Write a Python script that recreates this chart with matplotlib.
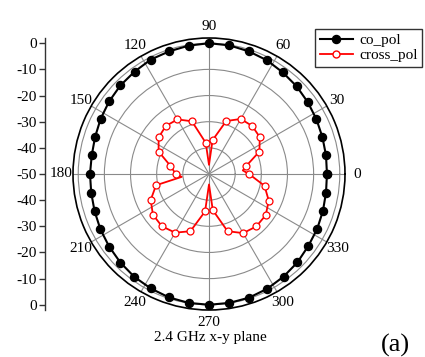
import numpy as np
import matplotlib
matplotlib.use("Agg")
import matplotlib.pyplot as plt
from matplotlib.lines import Line2D

plt.rcParams["font.family"] = ["Liberation Serif", "DejaVu Serif"]

# co-polar pattern, one sample every 9 degrees (dB)
co_angle = list(range(0, 360, 9))
co_pol = [-4.9, -4.7, -4.4, -3.9, -3.3, -2.6, -2.0, -1.2, -0.7, -0.2,
          0.0, -0.3, -0.7, -0.9, -1.6, -2.1, -2.8, -3.5, -4.2, -4.6,
          -4.5, -4.4, -4.0, -3.4, -2.8, -2.1, -1.4, -0.9, -0.4, -0.1,
          0.0, -0.1, -0.3, -0.8, -1.5, -2.2, -3.1, -3.6, -4.2, -4.7]

# cross-polar pattern (dB), markers on the 12 degree samples
cross_angle = [0, 6, 12, 24, 36, 48, 60, 72, 84, 90, 96, 108, 120, 132, 144,
               156, 168, 180, 186, 192, 204, 216, 228, 240, 252, 264, 270,
               276, 288, 300, 312, 324, 336, 348]
cross_pol = [-34.7, -37.0, -35.5, -28.9, -26.0, -25.3, -25.7, -28.7, -37.0,
             -46.5, -38.0, -28.8, -25.9, -25.3, -26.2, -28.9, -34.9, -37.3,
             -39.5, -29.3, -25.6, -23.5, -23.1, -24.1, -27.0, -35.6, -46.0,
             -36.1, -27.0, -23.9, -23.0, -23.2, -25.0, -28.3]

r_min, r_max = -50, 2
r_ticks = [-40, -30, -20, -10, 0]
theta_ticks = list(range(0, 360, 30))

W, H = 425, 357
fig = plt.figure(figsize=(W / 100, H / 100), dpi=100)

cx, cy, rad = 209, 174, 136
ax = fig.add_axes([(cx - rad) / W, (H - cy - rad) / H, 2 * rad / W, 2 * rad / H],
                  projection="polar")


def closed(a, v):
    return np.deg2rad(list(a) + [a[0]]), list(v) + [v[0]]


t, v = closed(co_angle, co_pol)
ax.plot(t, v, "-o", color="black", lw=1.5, ms=5.8, mfc="black", mec="black")

t, v = closed(cross_angle, cross_pol)
marks = [i for i, a in enumerate(cross_angle) if a % 12 == 0]
ax.plot(t, v, "-o", color="red", lw=1.3, ms=5, mfc="white", mec="red",
        mew=0.9, markevery=marks)

ax.set_rlim(r_min, r_max)
ax.set_rticks(r_ticks)
ax.set_yticklabels([])
ax.set_xticks(np.deg2rad(theta_ticks))
ax.set_xticklabels([])
ax.set_xticks(np.deg2rad([a + 15 for a in theta_ticks]), minor=True)
ax.tick_params(axis="x", which="major", direction="inout", length=6, width=0.8)
ax.tick_params(axis="x", which="minor", direction="in", length=3, width=0.8)
ax.grid(True, color="#8a8a8a", lw=0.8)
ax.spines["polar"].set_linewidth(1.2)
ax.spines["polar"].set_color("black")

# angle labels just outside the rim
lab_r = r_max + 12 / rad * (r_max - r_min)
for a in theta_ticks:
    ax.text(np.deg2rad(a), lab_r, str(a), ha="center", va="center",
            fontsize=11, clip_on=False)

# linear dB scale on the left, mirrored about the centre
span = r_max - r_min
lax = fig.add_axes([45 / W, (H - cy - rad) / H, 0.0001, 2 * rad / H])
lax.set_ylim(-span, span)
lax.set_xticks([])
for s in ["right", "top", "bottom"]:
    lax.spines[s].set_visible(False)
lax.spines["left"].set_color("#333333")
lax.spines["left"].set_linewidth(1.0)
upper = [v - r_min for v in r_ticks[::-1]]
lower = [-(v - r_min) for v in r_ticks]
lax.set_yticks(upper + [0] + lower)
lax.set_yticklabels([str(v) for v in r_ticks[::-1]] + [str(r_min)]
                    + [str(v) for v in r_ticks])
lax.tick_params(axis="y", direction="out", length=4, width=1.0, color="#333333",
                labelsize=11, pad=2)

fig.text(210 / W, 1 - 338 / H, "2.4 GHz x-y plane", ha="center", va="center",
         fontsize=11)
fig.text(395 / W, 1 - 345 / H, "(a)", ha="center", va="center", fontsize=19)

handles = [
    Line2D([], [], color="black", lw=1.5, marker="o", ms=5.8, mfc="black"),
    Line2D([], [], color="red", lw=1.3, marker="o", ms=5, mfc="white", mec="red"),
]
leg = fig.legend(handles, ["co_pol", "cross_pol"], loc="upper left",
                 bbox_to_anchor=(315 / W, 1 - 29 / H), fontsize=11,
                 frameon=True, fancybox=False, edgecolor="black",
                 borderpad=0.3, handlelength=2.2, handletextpad=0.4,
                 labelspacing=0.1, borderaxespad=0)
leg.get_frame().set_linewidth(1.0)

fig.savefig("out.png", dpi=100)
